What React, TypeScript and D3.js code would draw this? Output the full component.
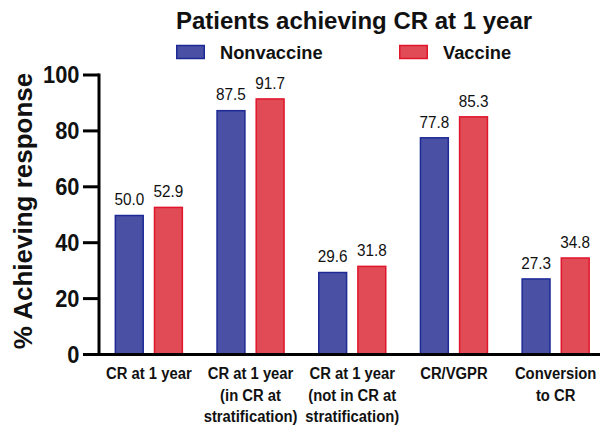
import React from "react";
import * as d3 from "d3";

const categories = [
  ["CR at 1 year"],
  ["CR at 1 year", "(in CR at", "stratification)"],
  ["CR at 1 year", "(not in CR at", "stratification)"],
  ["CR/VGPR"],
  ["Conversion", "to CR"],
];
const seriesNames = ["Nonvaccine", "Vaccine"];
const nonvaccine = [50.0, 87.5, 29.6, 77.8, 27.3];
const vaccine = [52.9, 91.7, 31.8, 85.3, 34.8];
const yTicks = [0, 20, 40, 60, 80, 100];

const FILL = ["#4a50a4", "#e04b56"];
const STROKE = ["#1d2a96", "#e0162c"];
const FONT = "'Liberation Sans', Arial, sans-serif";

function CText(props: {
  x: number; y: number; sx: number; size: number; bold?: boolean;
  anchor?: "start" | "middle" | "end"; rotate?: number; dy?: string; children: React.ReactNode;
}) {
  const { x, y, sx, size, bold, anchor = "start", rotate = 0, dy, children } = props;
  return (
    <text
      transform={`translate(${x},${y}) rotate(${rotate}) scale(${sx},1)`}
      textAnchor={anchor}
      fontSize={size}
      fontWeight={bold ? "bold" : "normal"}
      fontFamily={FONT}
      dy={dy}
      fill="#111"
    >
      {children}
    </text>
  );
}

export default function App() {
  const W = 605, H = 429;
  const x0 = 99, x1 = 600;
  const y = d3.scaleLinear().domain([0, 100]).range([354.5, 75]);
  const band = d3.scaleBand<number>().domain(d3.range(categories.length)).range([98, 606.5]);
  const groupW = 68.5;
  const inner = d3.scaleBand<number>().domain([0, 1]).range([0, groupW]).paddingInner(0.25);
  const series = [nonvaccine, vaccine];

  return (
    <svg width={W} height={H} style={{ position: "absolute", left: 0, top: 0 }} fontFamily={FONT}>
      <rect x={0} y={0} width={W} height={H} fill="#fff" />
      {/* title */}
      <CText x={176} y={28.5} sx={1} size={24} bold>Patients achieving CR at 1 year</CText>
      {/* legend */}
      {seriesNames.map((s, i) => {
        const lx = i === 0 ? 176 : 399;
        return (
          <g key={s}>
            <rect x={lx + 0.75} y={45.5} width={27.5} height={13} fill={FILL[i]} stroke={STROKE[i]} strokeWidth={1.5} />
            <CText x={lx + 44} y={59} sx={1} size={18.3} bold>{s}</CText>
          </g>
        );
      })}
      {/* bars */}
      {categories.map((_, ci) => {
        const gx = band(ci)! + (band.bandwidth() - groupW) / 2;
        return (
          <g key={ci}>
            {series.map((vals, si) => {
              const bx = gx + inner(si)!;
              const bw = inner.bandwidth();
              const v = vals[ci];
              return (
                <g key={si}>
                  <rect x={bx + 0.75} y={y(v) + 0.75} width={bw - 1.5} height={y(0) - y(v) - 0.75} fill={FILL[si]} stroke={STROKE[si]} strokeWidth={1.5} />
                  <CText x={bx + bw / 2} y={y(v) - 9.5} sx={0.94} size={16.3} anchor="middle">{v.toFixed(1)}</CText>
                </g>
              );
            })}
            {categories[ci].map((line, li) => (
              <CText key={li} x={band(ci)! + band.bandwidth() / 2} y={379 + li * 21.5} sx={0.95} size={15.6} bold anchor="middle">
                {line}
              </CText>
            ))}
          </g>
        );
      })}
      {/* axes */}
      <line x1={x0} x2={x0} y1={y(100) - 1.5} y2={y(0) + 1.5} stroke="#000" strokeWidth={3} />
      <line x1={x0 - 1.5} x2={x1} y1={y(0)} y2={y(0)} stroke="#000" strokeWidth={3} />
      {yTicks.map((t) => (
        <g key={t}>
          <line x1={83} x2={x0} y1={y(t)} y2={y(t)} stroke="#000" strokeWidth={3} />
          <CText x={79.5} y={y(t)} dy="0.36em" sx={0.95} size={23} bold anchor="end">{t}</CText>
        </g>
      ))}
      <CText x={31.5} y={211} rotate={-90} sx={1} size={26} bold anchor="middle">% Achieving response</CText>
    </svg>
  );
}
